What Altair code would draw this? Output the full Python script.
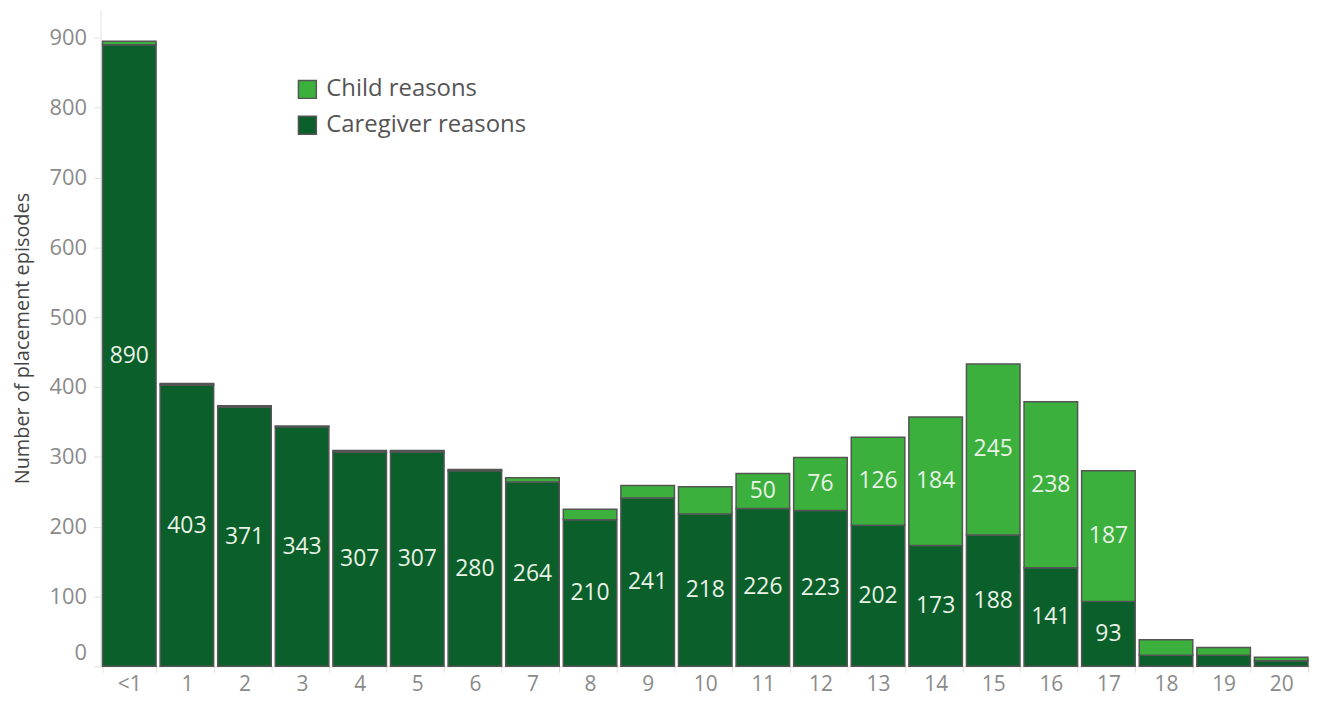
import altair as alt
import pandas as pd

ages = ["<1", "1", "2", "3", "4", "5", "6", "7", "8", "9", "10",
        "11", "12", "13", "14", "15", "16", "17", "18", "19", "20"]
caregiver = [890, 403, 371, 343, 307, 307, 280, 264, 210, 241, 218,
             226, 223, 202, 173, 188, 141, 93, 16, 16, 8]
child = [5, 2, 2, 1, 2, 2, 2, 6, 15, 18, 39,
         50, 76, 126, 184, 245, 238, 187, 22, 11, 5]

rows = []
for i, a in enumerate(ages):
    rows.append({"age": a, "reason": "Caregiver reasons", "value": caregiver[i], "ord": 0})
    rows.append({"age": a, "reason": "Child reasons", "value": child[i], "ord": 1})
df = pd.DataFrame(rows)

FONT = "Open Sans"
DARK = "#0b5f2a"
LIGHT = "#3bb03c"

x_enc = alt.X("age:N", sort=ages, title=None,
              scale=alt.Scale(paddingInner=0.07, paddingOuter=0.035),
              axis=alt.Axis(labelAngle=0, labelFont=FONT, labelFontSize=21,
                            labelColor="#8a8a8a", labelPadding=1,
                            tickBand="extent", tickColor="#e2e2e2", tickSize=6,
                            domainColor="#e2e2e2", grid=False))

base = alt.Chart(df).transform_stack(
    stack="value", groupby=["age"], as_=["y0", "y1"],
    sort=[alt.SortField("ord", order="ascending")]
).transform_calculate(mid="(datum.y0 + datum.y1) / 2")

bars = base.mark_bar(stroke="#555555", strokeWidth=1.5).encode(
    x=x_enc,
    y=alt.Y("y0:Q", title="Number of placement episodes",
            scale=alt.Scale(domain=[0, 940], nice=False),
            axis=alt.Axis(values=list(range(0, 1000, 100)), grid=False,
                          labelFont=FONT, labelFontSize=22, labelColor="#8a8a8a",
                          labelFlush=True, labelFlushOffset=-2, labelPadding=7,
                          tickColor="#e2e2e2", tickSize=7, domainColor="#e2e2e2",
                          titleFont=FONT, titleFontSize=20, titleFontWeight="normal",
                          titleColor="#444444", titlePadding=17)),
    y2="y1:Q",
    color=alt.Color("reason:N",
                    scale=alt.Scale(domain=["Child reasons", "Caregiver reasons"],
                                    range=[LIGHT, DARK]),
                    legend=alt.Legend(title=None, orient="none", legendX=196, legendY=68,
                                      symbolType="square", symbolSize=324,
                                      symbolStrokeColor="#555555", symbolStrokeWidth=1.5,
                                      labelFont=FONT, labelFontSize=24, labelColor="#555555",
                                      labelOffset=7, rowPadding=12, labelLimit=500)),
)

labels = base.transform_filter("datum.value >= 45").mark_text(
    font=FONT, fontSize=23, color="#e8f2e6", baseline="middle"
).encode(
    x=alt.X("age:N", sort=ages),
    y=alt.Y("mid:Q"),
    text=alt.Text("value:Q"),
)

chart = alt.layer(bars, labels).properties(
    width=1216, height=660,
    autosize=alt.AutoSizeParams(type="none"),
    padding={"left": 93, "top": 0, "right": 0, "bottom": 33},
).configure_view(stroke=None)

chart.save("out.html", embed_options={"renderer": "svg", "actions": False})
